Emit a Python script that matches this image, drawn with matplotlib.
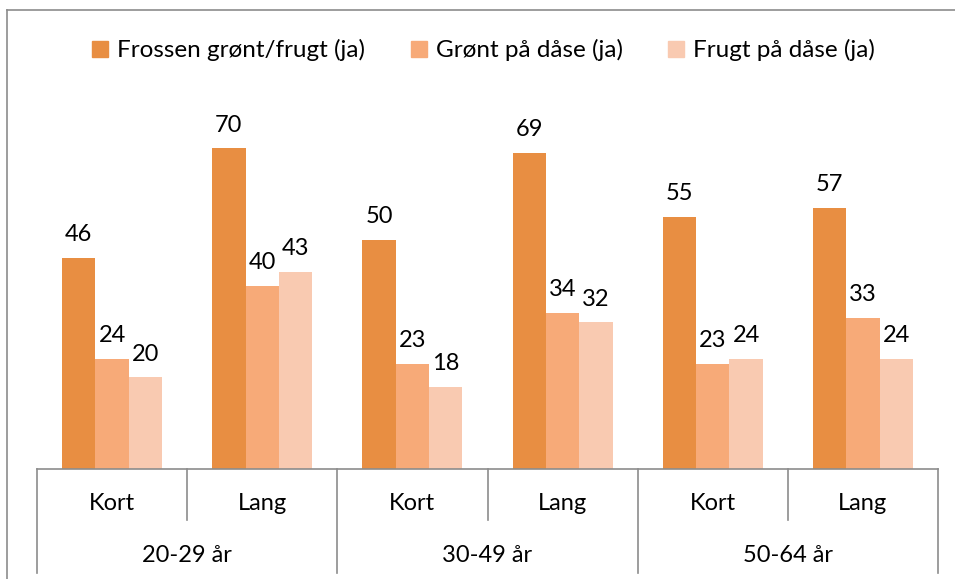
import matplotlib
matplotlib.use('Agg')
from matplotlib import pyplot as plt
from matplotlib.lines import Line2D
from matplotlib.transforms import blended_transform_factory
import numpy as np

plt.rcParams['font.family'] = ['Lato', 'DejaVu Sans']

# data
groups = ['20-29 år', '30-49 år', '50-64 år']
subgroups = ['Kort', 'Lang', 'Kort', 'Lang', 'Kort', 'Lang']
series = ['Frossen grønt/frugt (ja)', 'Grønt på dåse (ja)', 'Frugt på dåse (ja)']
frossen = [46, 70, 50, 69, 55, 57]
groent_daase = [24, 40, 23, 34, 23, 33]
frugt_daase = [20, 43, 18, 32, 24, 24]
colors = ['#E88E42', '#F7AA78', '#F9CAB1']

W, H = 955, 579
fig = plt.figure(figsize=(W / 100, H / 100), dpi=100)
ax = fig.add_axes([37 / W, 1 - 469 / H, (938 - 37) / W, (469 - 102.6) / H])

x = np.arange(len(subgroups))
w = 0.222
for i, (vals, c) in enumerate(zip([frossen, groent_daase, frugt_daase], colors)):
    pos = x + (i - 1) * w
    ax.bar(pos, vals, width=w, color=c, label=series[i])
    for px, v in zip(pos, vals):
        ax.text(px, v + 2.8, str(v), ha='center', va='bottom', fontsize=17, color='#000000')

ax.set_xlim(-0.5, len(subgroups) - 0.5)
ax.set_ylim(0, 80)
ax.set_yticks([])
ax.set_xticks([])
for s in ['top', 'right', 'left']:
    ax.spines[s].set_visible(False)
ax.spines['bottom'].set_color('#8c8c8c')
ax.spines['bottom'].set_linewidth(1.2)

# two-level category axis
tr = blended_transform_factory(ax.transData, fig.transFigure)
for i in range(len(subgroups) + 1):
    xb = i - 0.5
    y_end = 573 if i % 2 == 0 else 520
    ax.add_line(Line2D([xb, xb], [1 - 469 / H, 1 - y_end / H], transform=tr,
                       color='#8c8c8c', lw=1.2, clip_on=False))
for i, lab in enumerate(subgroups):
    ax.text(i, 1 - 504 / H, lab, transform=tr, ha='center', va='center', fontsize=17)
for j, g in enumerate(groups):
    ax.text(2 * j + 0.5, 1 - 555 / H, g, transform=tr, ha='center', va='center', fontsize=17)

# legend
handles = [Line2D([], [], marker='s', linestyle='none', markersize=11, color=c) for c in colors]
fig.legend(handles, series, loc='center', bbox_to_anchor=(0.5 + 4 / W, 1 - 50 / H), ncol=3,
           frameon=False, fontsize=17.5, handletextpad=0.2, columnspacing=1.7,
           handlelength=1.0)

# chart border
fig.add_artist(Line2D([7 / W, 7 / W], [1 - 10 / H, 0], transform=fig.transFigure, color='#8c8c8c', lw=1.2))
fig.add_artist(Line2D([7 / W, 1], [1 - 10 / H, 1 - 10 / H], transform=fig.transFigure, color='#8c8c8c', lw=1.2))

plt.savefig('out.png', dpi=100)
